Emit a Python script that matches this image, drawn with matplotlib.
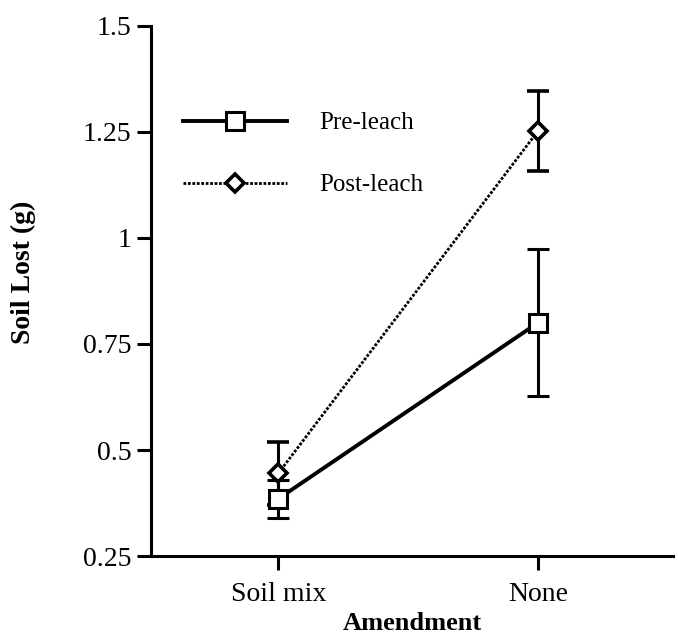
import matplotlib.pyplot as plt
from matplotlib.lines import Line2D

# values
amendments = ["Soil mix", "None"]
pre_leach = [0.385, 0.80]
pre_err = [0.045, 0.173]
post_leach = [0.445, 1.252]
post_err = [0.075, 0.095]

plt.rcParams["font.family"] = "Liberation Serif"

fig = plt.figure(figsize=(6.78, 6.37), dpi=100)
ax = fig.add_axes([0.2227, 0.127, 0.77, 0.8325])

x = range(len(amendments))

post_style = dict(color="black", linestyle=(0, (1, 0.6)), linewidth=2,
                  marker="D", markersize=9, markerfacecolor="white",
                  markeredgewidth=2.6)
pre_style = dict(color="black", linestyle="-", linewidth=2.8,
                 marker="s", markersize=13, markerfacecolor="white",
                 markeredgewidth=2.2)

ax.errorbar(x, post_leach, yerr=post_err, ecolor="black", elinewidth=2.2,
            capsize=8, capthick=2.2, zorder=2, **post_style)
ax.errorbar(x, pre_leach, yerr=pre_err, ecolor="black", elinewidth=2.2,
            capsize=8, capthick=2.2, zorder=3, **pre_style)

ax.set_xlim(-0.49, 1.52)
ax.set_ylim(0.25, 1.5)
ax.set_xticks(list(x))
ax.set_xticklabels(amendments)
ax.set_yticks([0.25, 0.5, 0.75, 1, 1.25, 1.5])
ax.set_yticklabels(["0.25", "0.5", "0.75", "1", "1.25", "1.5"])

ax.spines["top"].set_visible(False)
ax.spines["right"].set_visible(False)
ax.spines["left"].set_linewidth(2.2)
ax.spines["bottom"].set_linewidth(2.2)
ax.tick_params(axis="both", direction="out", length=10, width=2.2,
               labelsize=20)
ax.tick_params(axis="x", pad=9)
ax.tick_params(axis="y", pad=4)

ax.set_xlabel("Amendment", fontsize=19, fontweight="bold", labelpad=3)
ax.set_ylabel("Soil Lost (g)", fontsize=20, fontweight="bold", labelpad=34)
ax.yaxis.label.set_y(0.535)

handles = [Line2D([], [], **pre_style), Line2D([], [], **post_style)]
ax.legend(handles, ["Pre-leach", "Post-leach"], loc="upper left",
          bbox_to_anchor=(0.019, 0.88), frameon=False, fontsize=18,
          handlelength=4.15, handletextpad=1.28, labelspacing=1.58)

fig.savefig("out.png", dpi=100)
